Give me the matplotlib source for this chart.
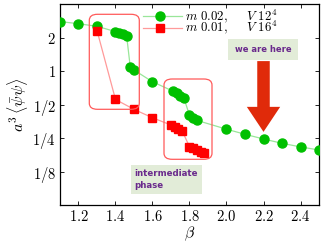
import matplotlib
matplotlib.use("Agg")
import matplotlib.pyplot as plt
from matplotlib.patches import FancyBboxPatch
from matplotlib.lines import Line2D

plt.rcParams['mathtext.fontset'] = 'cm'
plt.rcParams['font.family'] = 'DejaVu Sans'

beta_green = [1.1, 1.2, 1.3, 1.40, 1.42, 1.44, 1.46, 1.48, 1.50, 1.6,
              1.71, 1.73, 1.75, 1.77, 1.80, 1.82, 1.84, 2.0, 2.1, 2.2, 2.3, 2.4, 2.5]
pbp_green = [2.78, 2.66, 2.52, 2.26, 2.20, 2.15, 2.08, 1.08, 1.02, 0.80,
             0.66, 0.63, 0.60, 0.57, 0.40, 0.38, 0.36, 0.30, 0.27, 0.245, 0.224, 0.208, 0.195]
beta_red = [1.3, 1.4, 1.5, 1.6, 1.70, 1.72, 1.74, 1.76, 1.80, 1.82, 1.84, 1.86, 1.88]
pbp_red = [2.31, 0.555, 0.452, 0.38, 0.327, 0.315, 0.30, 0.29, 0.209, 0.202, 0.195, 0.189, 0.183]

label_green = r"$m\ 0.02,\quad\;\; V\ 12^4$"
label_red = r"$m\ 0.01,\quad\;\; V\ 16^4$"
ytick_vals = [2, 1, 0.5, 0.25, 0.125]
ytick_labels = [r"$2$", r"$1$", r"$1/2$", r"$1/4$", r"$1/8$"]
xtick_vals = [1.2, 1.4, 1.6, 1.8, 2.0, 2.2, 2.4]
xtick_labels = [r"$1.2$", r"$1.4$", r"$1.6$", r"$1.8$", r"$2.0$", r"$2.2$", r"$2.4$"]

W, H = 324, 243
fig = plt.figure(figsize=(3.24, 2.43), dpi=100)
ax = fig.add_axes([60 / W, 1 - 205 / H, 259 / W, 201 / H])

green_style = dict(color='#99e699', lw=0.9, marker='o', mfc='#00c000', mec='#00c000', ms=6.5)
red_style = dict(color='#ff9a9a', lw=0.9, marker='s', mfc='#ff0000', mec='#ff0000', ms=5.5)

ax.plot(beta_green, pbp_green, '-', zorder=3, **green_style)
ax.plot(beta_red, pbp_red, '-', zorder=3, **red_style)

ax.set_yscale('log', base=2)
ax.set_xlim(1.1, 2.5)
ax.set_ylim(1/16, 4)
ax.set_yticks(ytick_vals)
ax.set_yticklabels(ytick_labels, fontsize=10.5)
ax.set_xticks(xtick_vals)
ax.set_xticklabels(xtick_labels, fontsize=10.5)
ax.minorticks_off()
ax.tick_params(direction='in', top=True, right=True, length=3, width=0.6, pad=3)
for s in ax.spines.values():
    s.set_linewidth(0.9)

ax.set_xlabel(r"$\beta$", fontsize=11.5, labelpad=0)
ax.set_ylabel(r"$a^3\,\langle\bar{\psi}\psi\rangle$", fontsize=11.5, labelpad=2)

# legend (manual placement in pixel coordinates)
for yrow, style, lab in [(16, green_style, label_green), (27.7, red_style, label_red)]:
    yf = 1 - yrow / H
    fig.add_artist(Line2D([143 / W, 182 / W], [yf, yf], transform=fig.transFigure,
                          color=style['color'], lw=style['lw']))
    fig.add_artist(Line2D([160 / W], [yf], transform=fig.transFigure, ls='none',
                          marker=style['marker'], mfc=style['mfc'], mec=style['mec'],
                          ms=style['ms']))
    fig.text(185 / W, yf, lab, ha='left', va='center', fontsize=9.3)

def fig_box(x0, y0, x1, y1, **kw):
    p = FancyBboxPatch((x0 / W, 1 - y1 / H), (x1 - x0) / W, (y1 - y0) / H,
                       boxstyle="round,pad=0,rounding_size=0.025",
                       transform=fig.transFigure, **kw)
    fig.patches.append(p)

fig_box(89.3, 14.3, 139.3, 109.3, fc='none', ec='#ff5a5a', lw=0.9, zorder=5)
fig_box(164, 79, 212, 159.3, fc='none', ec='#ff5a5a', lw=0.9, zorder=5)

fig.text(263 / W, 1 - 49.5 / H, "we are here", ha='center', va='center',
         fontsize=6, fontweight='bold', color='#6a2a8c',
         bbox=dict(boxstyle='square,pad=0.75', fc='#e2ecd8', ec='none'))
fig.text(134.5 / W, 1 - 179.5 / H, "intermediate\nphase", ha='left', va='center',
         fontsize=6.2, fontweight='bold', color='#6a2a8c', linespacing=1.35,
         bbox=dict(boxstyle='square,pad=0.45', fc='#e2ecd8', ec='none'))

# arrow pointing at beta = 2.2
ax.annotate("", xy=(2.2, 0.268), xytext=(2.2, 1.3),
            arrowprops=dict(arrowstyle='simple,head_length=0.9,head_width=1.2,tail_width=0.45',
                            fc='#e02a0a', ec='none', mutation_scale=20), zorder=6)

fig.savefig("out.png", dpi=100)
